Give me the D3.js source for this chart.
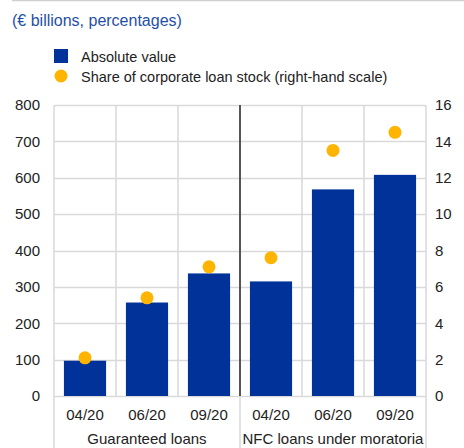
<!DOCTYPE html>
<html>
<head>
<meta charset="utf-8">
<script src="https://cdn.jsdelivr.net/npm/d3@7/dist/d3.min.js"></script>
<style>
  html, body { margin: 0; padding: 0; background: #fff; }
  svg { display: block; font-family: "Liberation Sans", Arial, sans-serif; }
</style>
</head>
<body>
<svg id="chart" width="464" height="448"></svg>
<script>
// Monthly periods within each group
const periods = ["04/20", "06/20", "09/20", "04/20", "06/20", "09/20"];
// Group names (each spans three periods)
const groups = ["Guaranteed loans", "NFC loans under moratoria"];
// Absolute value, € billions (left-hand scale)
const absoluteValue = [97, 257, 337, 315, 568, 608];
// Share of corporate loan stock, % (right-hand scale)
const shareOfStock = [2.1, 5.4, 7.1, 7.6, 13.5, 14.5];
// Axis ticks
const leftTicks = [0, 100, 200, 300, 400, 500, 600, 700, 800];
const rightTicks = [0, 2, 4, 6, 8, 10, 12, 14, 16];

const svg = d3.select("#chart");
const blue = "#003299";
const yellow = "#ffb400";
const grid = "#d9d9d9";
const textColor = "#222";

const plot = { left: 54, right: 426, top: 105, bottom: 396 };

// top rule and subtitle
svg.append("line")
  .attr("x1", 12).attr("x2", 464).attr("y1", 0.5).attr("y2", 0.5)
  .attr("stroke", "#d0d0d0").attr("stroke-width", 1.5);
svg.append("text")
  .attr("x", 12).attr("y", 26)
  .attr("font-size", 16).attr("fill", "#1f4fa6")
  .text("(€ billions, percentages)");

// legend
const legend = svg.append("g");
legend.append("rect").attr("x", 54).attr("y", 49).attr("width", 14).attr("height", 14).attr("fill", blue);
legend.append("text").attr("x", 81).attr("y", 61.5).attr("font-size", 14.5).attr("fill", textColor).text("Absolute value");
legend.append("circle").attr("cx", 61).attr("cy", 76).attr("r", 6.5).attr("fill", yellow);
legend.append("text").attr("x", 81).attr("y", 81.5).attr("font-size", 14.5).attr("fill", textColor)
  .text("Share of corporate loan stock (right-hand scale)");

const idx = d3.range(periods.length);
const x = d3.scaleBand().domain(idx).range([plot.left, plot.right]).paddingInner(0.32).paddingOuter(0.16);
const step = x.step();
const yL = d3.scaleLinear().domain([0, 800]).range([plot.bottom, plot.top]);
const yR = d3.scaleLinear().domain([0, 16]).range([plot.bottom, plot.top]);

// horizontal grid
svg.append("g").selectAll("line").data(leftTicks).join("line")
  .attr("x1", plot.left).attr("x2", plot.right)
  .attr("y1", d => Math.round(yL(d)) + 0.5).attr("y2", d => Math.round(yL(d)) + 0.5)
  .attr("stroke", grid).attr("stroke-width", 1.5);

// vertical grid at category boundaries
const bounds = d3.range(periods.length + 1).map(i => plot.left + i * step);
svg.append("g").selectAll("line").data(bounds).join("line")
  .attr("x1", d => d).attr("x2", d => d)
  .attr("y1", plot.top)
  .attr("y2", (d, i) => (i % 3 === 0 ? 448 : plot.bottom))
  .attr("stroke", grid).attr("stroke-width", 1.5);

// separator between the two groups
svg.append("line")
  .attr("x1", bounds[3]).attr("x2", bounds[3])
  .attr("y1", plot.top).attr("y2", plot.bottom)
  .attr("stroke", "#555").attr("stroke-width", 2);

// bars
svg.append("g").selectAll("rect").data(idx).join("rect")
  .attr("x", i => x(i)).attr("width", x.bandwidth())
  .attr("y", i => yL(absoluteValue[i]))
  .attr("height", i => yL(0) - yL(absoluteValue[i]))
  .attr("fill", blue);

// dots
svg.append("g").selectAll("circle").data(idx).join("circle")
  .attr("cx", i => x(i) + x.bandwidth() / 2)
  .attr("cy", i => yR(shareOfStock[i]))
  .attr("r", 6.5).attr("fill", yellow);

// left axis labels
const leftAxis = svg.append("g").attr("transform", `translate(${plot.left},0)`)
  .call(d3.axisLeft(yL).tickValues(leftTicks).tickSize(0).tickPadding(14));
leftAxis.select(".domain").remove();
leftAxis.selectAll("text").attr("font-size", 15).attr("fill", textColor).attr("font-family", null);

// right axis labels
const rightAxis = svg.append("g").attr("transform", `translate(${plot.right},0)`)
  .call(d3.axisRight(yR).tickValues(rightTicks).tickSize(0).tickPadding(9));
rightAxis.select(".domain").remove();
rightAxis.selectAll("text").attr("font-size", 15).attr("fill", textColor).attr("font-family", null);

// period labels
svg.append("g").selectAll("text").data(idx).join("text")
  .attr("x", i => x(i) + x.bandwidth() / 2)
  .attr("y", 419.5).attr("text-anchor", "middle")
  .attr("font-size", 15).attr("fill", textColor)
  .text(i => periods[i]);

// group labels
svg.append("g").selectAll("text").data(groups).join("text")
  .attr("x", (d, g) => (bounds[g * 3] + bounds[g * 3 + 3]) / 2)
  .attr("y", 444).attr("text-anchor", "middle")
  .attr("font-size", 15).attr("fill", textColor)
  .text(d => d);
</script>
</body>
</html>
